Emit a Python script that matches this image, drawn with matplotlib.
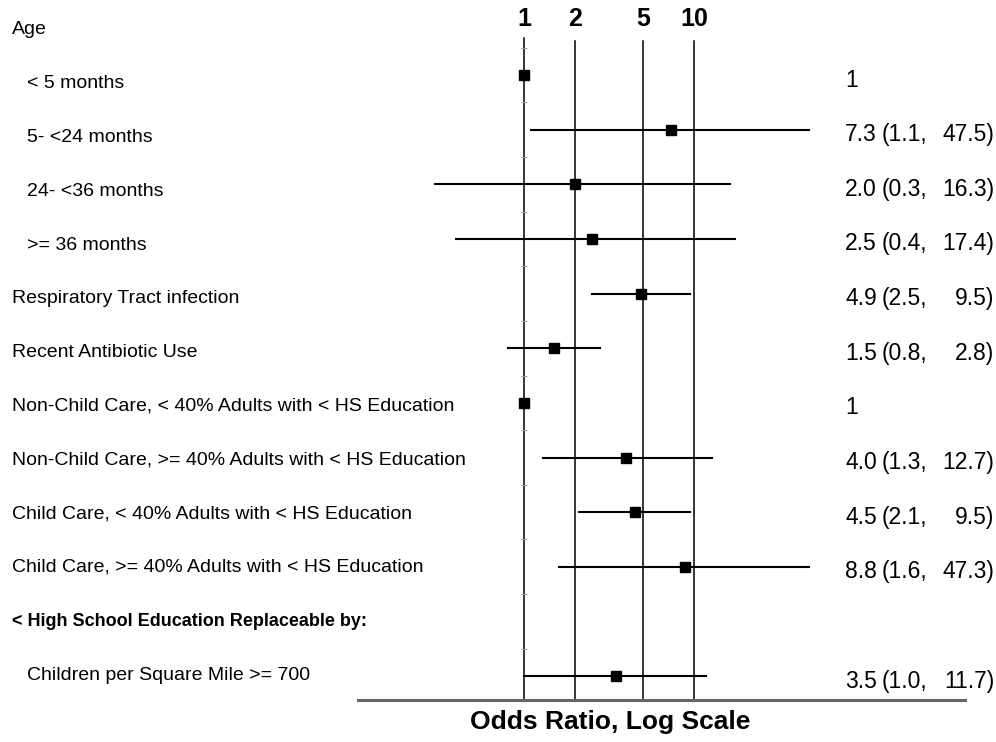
import numpy as np
import matplotlib.pyplot as plt
from matplotlib.transforms import blended_transform_factory

plt.rcParams['font.family'] = ['Liberation Sans', 'DejaVu Sans']

# data
labels = [
    "Age",
    "< 5 months",
    "5- <24 months",
    "24- <36 months",
    ">= 36 months",
    "Respiratory Tract infection",
    "Recent Antibiotic Use",
    "Non-Child Care, < 40% Adults with < HS Education",
    "Non-Child Care, >= 40% Adults with < HS Education",
    "Child Care, < 40% Adults with < HS Education",
    "Child Care, >= 40% Adults with < HS Education",
    "< High School Education Replaceable by:",
    "Children per Square Mile >= 700",
]
indent = [0, 1, 1, 1, 1, 0, 0, 0, 0, 0, 0, 0, 1]
bold = [0, 0, 0, 0, 0, 0, 0, 0, 0, 0, 0, 1, 0]
odds = [None, 1, 7.3, 2.0, 2.5, 4.9, 1.5, 1, 4.0, 4.5, 8.8, None, 3.5]
ci_lo = [None, None, 1.1, 0.3, 0.4, 2.5, 0.8, None, 1.3, 2.1, 1.6, None, 1.0]
ci_hi = [None, None, 47.5, 16.3, 17.4, 9.5, 2.8, None, 12.7, 9.5, 47.3, None, 11.7]
ticks = [1, 2, 5, 10]

W, H = 996, 742
fig = plt.figure(figsize=(W / 100, H / 100), dpi=100)
ax = fig.add_axes([0, 0, 1, 1])
ax.set_xscale('log')

# pixel layout: OR=1 at x=524, 170 px per decade; rows 54.64 px apart
px1, dec = 524, 170
row0, drow = 20.4, 54.64
ax.set_xlim(10 ** (-px1 / dec), 10 ** ((W - px1) / dec))
ax.set_ylim((H - row0) / drow, -row0 / drow)
ax.axis('off')

def ypix(p):
    return (p - row0) / drow

# reference lines
for t in ticks:
    top = 38 if t == 1 else 41
    ax.plot([t, t], [ypix(top), ypix(700)], color='black', lw=1.1, zorder=1)
    ax.text(t, ypix(19), str(t), ha='center', va='center',
            fontsize=18, fontweight='bold')

# small tick marks on the null line
for i in range(12):
    ax.plot([1], [i + 0.5], marker='_', ms=5, color='0.6', mew=0.7, zorder=1)

# bottom axis line
xb = blended_transform_factory(fig.transFigure, ax.transData)
ax.plot([358 / W, 965 / W], [ypix(700), ypix(700)], color='0.4', lw=2.2,
        transform=xb, zorder=2)
fig.text(610 / W, 1 - 722 / H, "Odds Ratio, Log Scale", ha='center',
         va='center', fontsize=19, fontweight='bold')

# estimates and CIs
fs_r = 16.5
dy = 11.5 / drow  # baseline offset below the row centre
for i, (o, lo, hi) in enumerate(zip(odds, ci_lo, ci_hi)):
    if o is None:
        continue
    if lo is not None:
        ax.plot([lo, hi], [i, i], color='black', lw=1.5, zorder=3)
    ax.plot([o], [i], marker='s', ms=7.5, color='black', zorder=4)
    ax.text(845 / W, i + dy, f"{o:g}" if lo is None else f"{o:.1f}",
            transform=xb, ha='left', va='baseline', fontsize=fs_r)
    if lo is not None:
        ax.text(882 / W, i + dy, f"({lo:.1f},", transform=xb, ha='left',
                va='baseline', fontsize=fs_r)
        ax.text(994 / W, i + dy, f"{hi:.1f})", transform=xb, ha='right',
                va='baseline', fontsize=fs_r)

# row labels
for i, lab in enumerate(labels):
    x = 27 if indent[i] else 12
    fig.text(x / W, 1 - (30 + 53.75 * i) / H, lab, ha='left', va='center',
             fontsize=13 if bold[i] else 14,
             fontweight='bold' if bold[i] else 'normal')

fig.savefig('out.png', dpi=100)
